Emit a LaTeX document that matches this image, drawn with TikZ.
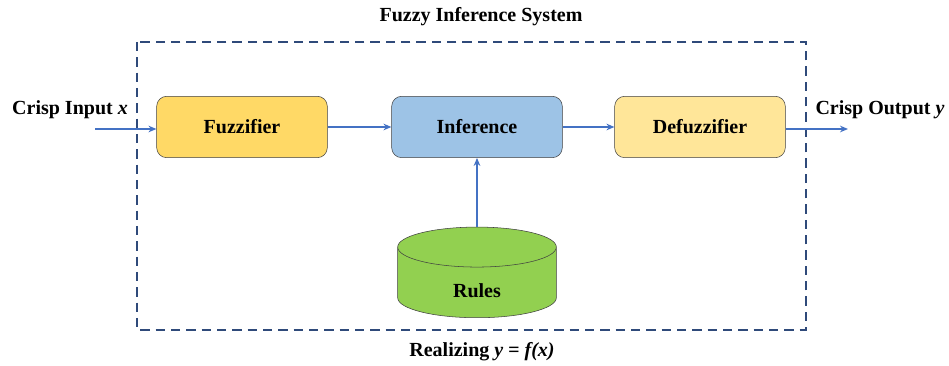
\documentclass[tikz,border=0pt]{standalone}
\usepackage{fontspec}
\setmainfont{Liberation Serif}
\usetikzlibrary{shapes.geometric}
\usetikzlibrary{arrows.meta}
\definecolor{fuzzcol}{HTML}{FFD966}
\definecolor{infcol}{HTML}{9DC3E6}
\definecolor{defuzzcol}{HTML}{FFE699}
\definecolor{rulecol}{HTML}{92D050}
\definecolor{arrcol}{HTML}{4472C4}
\definecolor{framecol}{HTML}{2F4A7A}
\tikzset{
  block/.style={draw=black!75, rounded corners=7.5pt, minimum width=128pt,
    minimum height=46pt, font=\fontsize{15}{18}\selectfont\bfseries},
  flow/.style={draw=arrcol, line width=1.2pt, -{Stealth[length=6pt,width=5pt]}},
  lbl/.style={font=\fontsize{15}{18}\selectfont\bfseries, inner sep=0pt}
}
\begin{document}
\begin{tikzpicture}[x=0.75pt,y=-0.75pt]
      \useasboundingbox (0,0) rectangle (949,366);
      % frame
      \draw[framecol, line width=1.5pt, dash pattern=on 7pt off 4.5pt] (137,42) rectangle (806,330);
      \node[lbl] (title) at (481,17) {Fuzzy Inference System};
      \node[lbl] (realize) at (482,352) {Realizing \textit{y = f(x)}};
      % blocks
      \node[block, fill=fuzzcol] (fuzz) at (242,127) {Fuzzifier};
      \node[block, fill=infcol] (inf) at (477,127) {Inference};
      \node[block, fill=defuzzcol] (defuzz) at (700,127) {Defuzzifier};
      \node[cylinder, shape border rotate=90, draw=black!75, fill=rulecol, aspect=4.5,
        minimum width=119pt, minimum height=68pt, anchor=bottom]
        (rules) at (477,318) {};
      \node[lbl] (ruletxt) at (477,291) {Rules};
      % connectors
      \coordinate (in) at (95,129);
      \coordinate (out) at (848,129);
      \draw[flow] (in) -- (fuzz.west |- in);
      \draw[flow] (fuzz) -- (inf);
      \draw[flow] (inf) -- (defuzz);
      \draw[flow] (defuzz.east |- out) -- (out);
      \draw[flow] (rules.top) -- (inf.south);
      \node[lbl] (intxt) at (70,110) {Crisp Input \textit{x}};
      \node[lbl] (outtxt) at (880,110) {Crisp Output \textit{y}};
\end{tikzpicture}
\end{document}
